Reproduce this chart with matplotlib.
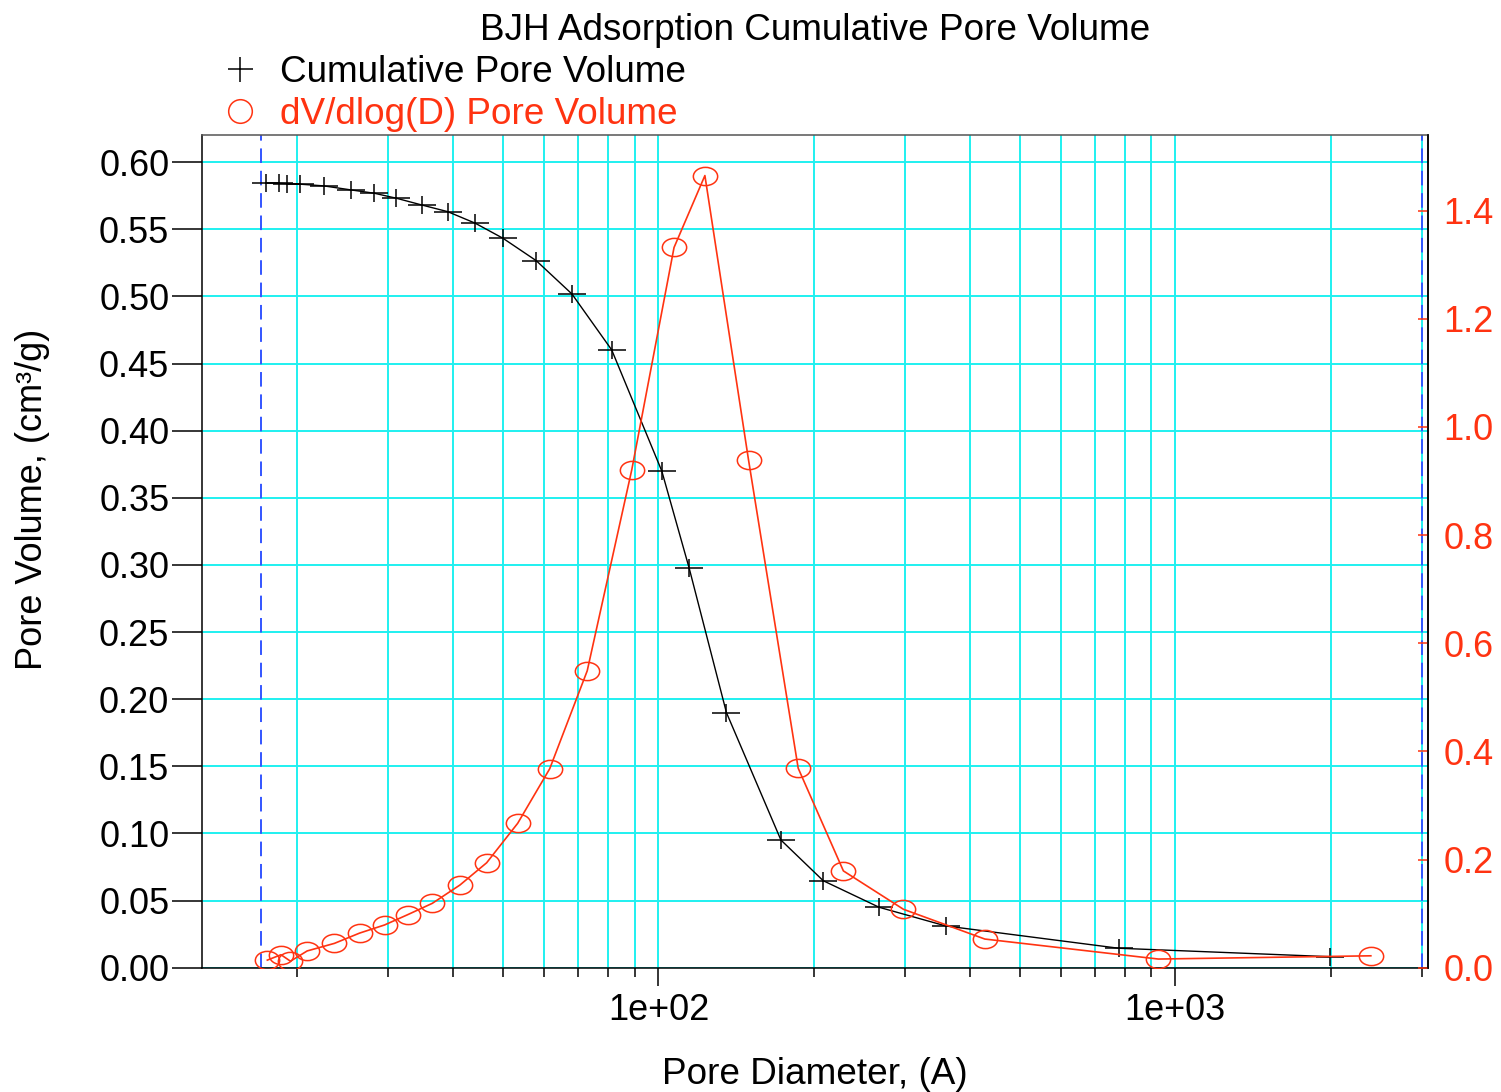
import numpy as np
import matplotlib
matplotlib.use("Agg")
import matplotlib.pyplot as plt
from matplotlib.path import Path
from matplotlib.lines import Line2D
from matplotlib.transforms import Affine2D
from matplotlib.ticker import FixedLocator, FuncFormatter, NullFormatter, LogLocator

plt.rcParams['font.family'] = ['Liberation Sans', 'DejaVu Sans']

# cumulative pore volume (cm3/g) vs pore diameter (A)
cum_diam = [17.4, 18.4, 19.1, 20.2, 22.5, 25.4, 28.2, 31.1, 34.8, 39.1, 44.2, 50.0,
            58.0, 68.0, 81.2, 101.5, 114.7, 135.4, 172.6, 208.4, 267.4, 359.8, 777, 1995]
cum_vol = [0.5846, 0.5844, 0.5841, 0.5837, 0.5824, 0.5794, 0.5769, 0.5732, 0.5682, 0.5632,
           0.5546, 0.5434, 0.5267, 0.5019, 0.4602, 0.3700, 0.2975, 0.1900, 0.0951, 0.0648,
           0.0450, 0.0311, 0.0145, 0.0082]

# dV/dlog(D) pore volume vs pore diameter (A)
dv_diam = [17.5, 18.6, 19.4, 20.9, 23.6, 26.4, 29.5, 32.7, 36.5, 41.3, 46.5, 53.4,
           61.6, 72.8, 88.8, 107.2, 123.0, 149.4, 186.4, 228.0, 298.0, 428.2, 928, 2392]
dv_val = [0.014, 0.024, 0.012, 0.031, 0.045, 0.064, 0.079, 0.098, 0.119, 0.153, 0.194, 0.267,
          0.368, 0.549, 0.921, 1.332, 1.465, 0.939, 0.369, 0.179, 0.108, 0.053, 0.016, 0.022]

analysis_range = [17, 3000]
left_ticks = [0.00, 0.05, 0.10, 0.15, 0.20, 0.25, 0.30, 0.35, 0.40, 0.45, 0.50, 0.55, 0.60]
right_ticks = [0.0, 0.2, 0.4, 0.6, 0.8, 1.0, 1.2, 1.4]

RED = '#ff3311'
CYAN = '#1ff0f0'
FS = 26
FS_T = 26.6

# stretched markers like the original plot
plus_path = Path([(-1, 0), (1, 0), (0, -0.63), (0, 0.63)],
                 [Path.MOVETO, Path.LINETO, Path.MOVETO, Path.LINETO])
ell_path = Affine2D().scale(1.0, 0.75).transform_path(Path.unit_circle())

fig = plt.figure(figsize=(15.01, 10.92), dpi=100)
W, H = 1501, 1092
L, R, T, B = 202, 1428.3, 135, 967.7
ax = fig.add_axes([L / W, 1 - B / H, (R - L) / W, (B - T) / H])
ax.set_xscale('log')
ax.set_xlim(13.08, 3090)
ax.set_ylim(0, 0.6203)
ax.set_axisbelow(True)

ax.xaxis.set_major_locator(LogLocator(base=10, numticks=10))
ax.xaxis.set_minor_locator(LogLocator(base=10, subs=np.arange(2, 10), numticks=20))
ax.xaxis.set_major_formatter(FuncFormatter(lambda v, p: f"{v:.0e}"))
ax.xaxis.set_minor_formatter(NullFormatter())
ax.yaxis.set_major_locator(FixedLocator(left_ticks))
ax.yaxis.set_major_formatter(FuncFormatter(lambda v, p: f"{v:.2f}"))

ax.grid(True, which='both', axis='x', color=CYAN, lw=1.4)
ax.grid(True, which='major', axis='y', color=CYAN, lw=1.4)

ax.tick_params(axis='y', direction='out', length=21.5, width=1.1, labelsize=FS, pad=2)
ax.tick_params(axis='x', which='major', direction='out', length=13, width=1.1, labelsize=FS, pad=5)
ax.tick_params(axis='x', which='minor', direction='out', length=6.5, width=1.1)

for s in ax.spines.values():
    s.set_linewidth(1.1)
ax.spines['top'].set_color('#555555')

for xv in analysis_range:
    ax.axvline(xv, color='#3355ff', lw=1.4, dashes=(7.5, 4), zorder=2)

ax.plot(cum_diam, cum_vol, color='black', lw=1.0, marker=plus_path, markersize=19.5,
        mew=1.1, mec='black', zorder=3)

ax2 = ax.twinx()
ax2.set_ylim(0, 1.540)
ax2.yaxis.set_major_locator(FixedLocator(right_ticks))
ax2.yaxis.set_major_formatter(FuncFormatter(lambda v, p: f"{v:.1f}"))
ax2.tick_params(axis='y', direction='in', length=7, width=1.1, colors=RED, labelsize=FS, pad=11)
ax2.spines['right'].set_linewidth(1.1)
ax2.spines['right'].set_color('black')
for s in ['left', 'top', 'bottom']:
    ax2.spines[s].set_visible(False)

ax2.plot(dv_diam, dv_val, color=RED, lw=1.2, marker=ell_path, markersize=17.5,
         mfc='none', mec=RED, mew=1.1)

ax.set_xlabel('Pore Diameter, (A)', fontsize=FS_T, va='center')
ax.xaxis.set_label_coords(0.5, (B - 1075) / (B - T))
ax.set_ylabel('Pore Volume, (cm³/g)', fontsize=FS, va='center', ha='center')
ax.yaxis.set_label_coords((33 - L) / (R - L), (B - 499) / (B - T))

fig.text(815 / W, 1 - 30 / H, 'BJH Adsorption Cumulative Pore Volume', fontsize=FS_T,
         ha='center', va='center')

handles = [Line2D([], [], ls='none', marker='+', color='black', markersize=18, mew=1.1),
           Line2D([], [], ls='none', marker='o', mfc='none', mec=RED, markersize=17, mew=1.1)]
fig.legend(handles, ['Cumulative Pore Volume', 'dV/dlog(D) Pore Volume'],
           loc='upper left', bbox_to_anchor=(222 / W, 1 - 55 / H), frameon=False,
           fontsize=FS_T, handlelength=1.0, handletextpad=0.56, borderpad=0,
           borderaxespad=0, labelspacing=0.19, labelcolor=['black', RED])

fig.savefig('out.png', dpi=100)
